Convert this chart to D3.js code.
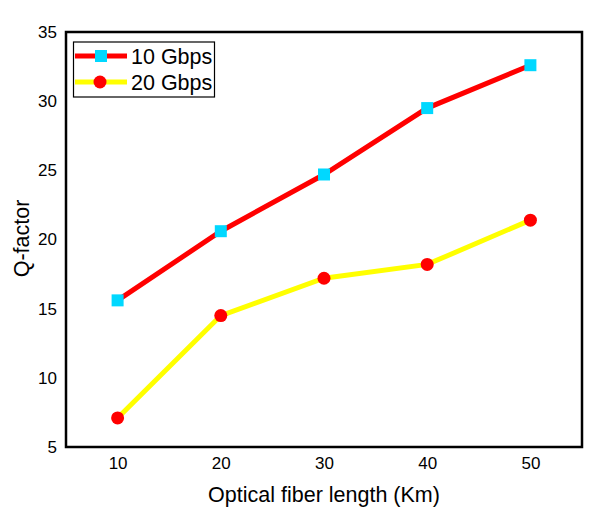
<!DOCTYPE html>
<html><head><meta charset="utf-8">
<script src="https://cdn.jsdelivr.net/npm/d3@7"></script>
<style>body{margin:0;background:#fff}svg{display:block}text{font-family:"Liberation Sans",Arial,sans-serif}</style>
</head><body>
<svg id="c" width="611" height="518"></svg>
<script>
const lengths = [10, 20, 30, 40, 50];
const q10 = [15.6, 20.6, 24.7, 29.5, 32.6];
const q20 = [7.1, 14.5, 17.2, 18.2, 21.4];
const seriesNames = ["10 Gbps", "20 Gbps"];
const xTicks = [10, 20, 30, 40, 50];
const yTicks = [5, 10, 15, 20, 25, 30, 35];

const svg = d3.select("#c");
const L = 66, R = 582, T = 32, B = 447;
const x = d3.scaleLinear().domain([5, 55]).range([L, R]);
const y = d3.scaleLinear().domain([5, 35]).range([B, T]);

const xAxis = svg.append("g").attr("transform", `translate(0,${B})`)
  .call(d3.axisBottom(x).tickValues(xTicks).tickSize(0).tickPadding(10));
const yAxis = svg.append("g").attr("transform", `translate(${L},0)`)
  .call(d3.axisLeft(y).tickValues(yTicks).tickSize(0).tickPadding(9));
[xAxis, yAxis].forEach(a => {
  a.select(".domain").remove();
  a.selectAll("text").attr("font-size", 17).attr("fill", "#000")
   .attr("font-family", '"Liberation Sans",Arial,sans-serif');
});

svg.append("rect").attr("x", L).attr("y", T).attr("width", R - L).attr("height", B - T)
  .attr("fill", "none").attr("stroke", "#000").attr("stroke-width", 2.5);

const line = d3.line().x((d, i) => x(lengths[i])).y(d => y(d));

svg.append("path").datum(q10).attr("d", line).attr("fill", "none")
  .attr("stroke", "#ff0000").attr("stroke-width", 5);
svg.append("path").datum(q20).attr("d", line).attr("fill", "none")
  .attr("stroke", "#ffff00").attr("stroke-width", 5);

svg.selectAll(".sq").data(q10).enter().append("rect")
  .attr("x", (d, i) => x(lengths[i]) - 6).attr("y", d => y(d) - 6)
  .attr("width", 12).attr("height", 12).attr("fill", "#00d8ff");
svg.selectAll(".ci").data(q20).enter().append("circle")
  .attr("cx", (d, i) => x(lengths[i])).attr("cy", d => y(d))
  .attr("r", 6.5).attr("fill", "#ff0000");

// legend
const lg = svg.append("g");
lg.append("rect").attr("x", 73.5).attr("y", 42).attr("width", 141).attr("height", 55)
  .attr("fill", "#fff").attr("stroke", "#000").attr("stroke-width", 1.2);
[56, 82].forEach((ly, k) => {
  lg.append("line").attr("x1", 75).attr("x2", 127).attr("y1", ly).attr("y2", ly)
    .attr("stroke", k === 0 ? "#ff0000" : "#ffff00").attr("stroke-width", 5);
  if (k === 0) lg.append("rect").attr("x", 95).attr("y", ly - 6).attr("width", 12).attr("height", 12).attr("fill", "#00d8ff");
  else lg.append("circle").attr("cx", 100).attr("cy", ly).attr("r", 6.5).attr("fill", "#ff0000");
  lg.append("text").attr("x", 131).attr("y", ly).attr("dy", "0.36em")
    .attr("font-size", 21.5).text(seriesNames[k]);
});

svg.append("text").attr("x", 324).attr("y", 502).attr("text-anchor", "middle")
  .attr("font-size", 21.5).text("Optical fiber length (Km)");
svg.append("text").attr("transform", `translate(29,238.5) rotate(-90)`)
  .attr("text-anchor", "middle").attr("font-size", 21.5).text("Q-factor");
</script>
</body></html>
